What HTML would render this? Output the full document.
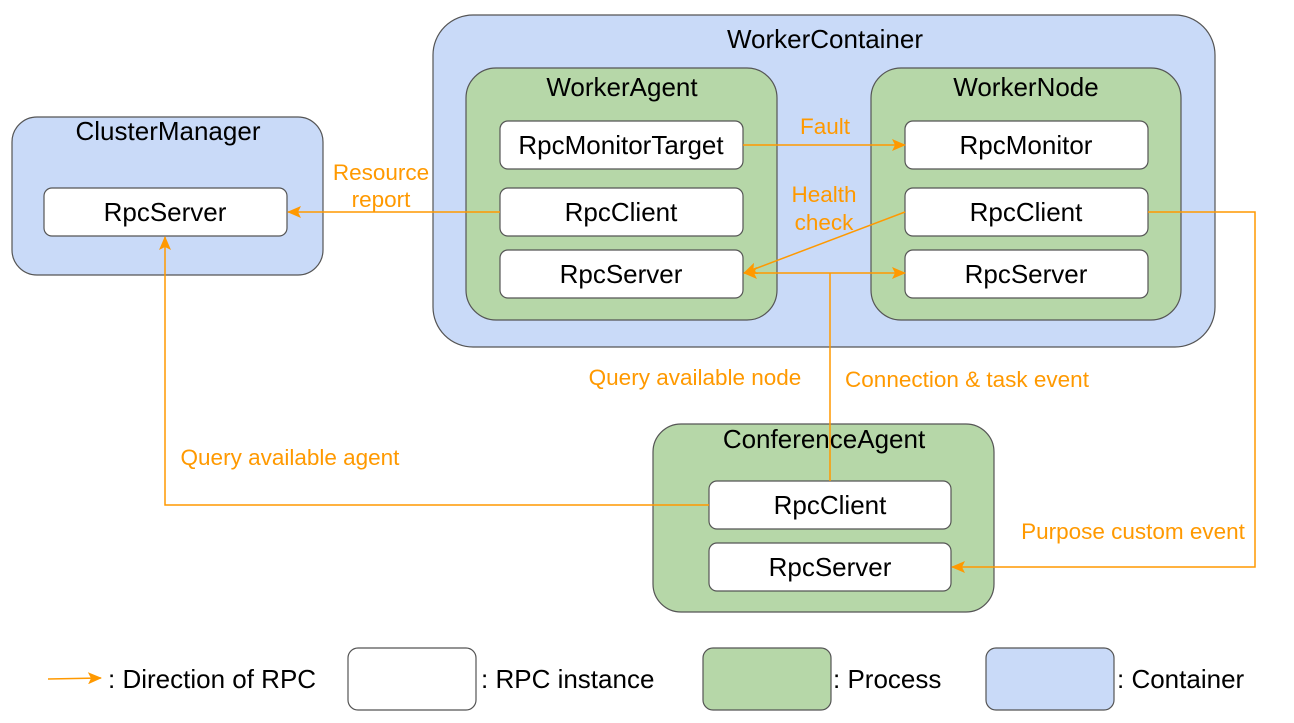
<!DOCTYPE html>
<html><head><meta charset="utf-8"><style>body{margin:0;background:#fff}svg{display:block}text{font-family:"Liberation Sans",Arial,sans-serif}</style></head><body>
<svg width="1294" height="723" viewBox="0 0 1294 723" xmlns="http://www.w3.org/2000/svg">
<defs><marker id="a" markerWidth="14" markerHeight="12" refX="13" refY="6" orient="auto" markerUnits="userSpaceOnUse"><path d="M0,0 L14,6 L0,12 L3,6 z" fill="#F90"/></marker>
<marker id="s" markerWidth="14" markerHeight="12" refX="1" refY="6" orient="auto" markerUnits="userSpaceOnUse"><path d="M14,0 L0,6 L14,12 L11,6 z" fill="#F90"/></marker></defs>
<g stroke="#555" stroke-width="1.2">
<rect x="433" y="15" width="782" height="332" rx="40" fill="#c9daf8"/>
<rect x="466" y="68" width="311" height="252" rx="30" fill="#b6d7a8"/>
<rect x="871" y="68" width="310" height="252" rx="30" fill="#b6d7a8"/>
<rect x="12" y="117" width="311" height="158" rx="25" fill="#c9daf8"/>
<rect x="653" y="424" width="341" height="188" rx="28" fill="#b6d7a8"/>
<g fill="#fff">
<rect x="500" y="121" width="243" height="48" rx="8"/><rect x="500" y="188" width="243" height="48" rx="8"/><rect x="500" y="250" width="243" height="48" rx="8"/>
<rect x="905" y="121" width="243" height="48" rx="8"/><rect x="905" y="188" width="243" height="48" rx="8"/><rect x="905" y="250" width="243" height="48" rx="8"/>
<rect x="44" y="188" width="243" height="48" rx="8"/>
<rect x="709" y="481" width="242" height="48" rx="8"/><rect x="709" y="543" width="242" height="48" rx="8"/>
<rect x="348" y="648" width="128" height="62" rx="10"/>
</g>
<rect x="703" y="648" width="128" height="62" rx="10" fill="#b6d7a8"/>
<rect x="986" y="648" width="128" height="62" rx="10" fill="#c9daf8"/>
</g>
<g fill="none" stroke="#F90" stroke-width="1.5">
<line x1="743" y1="145" x2="905" y2="145" marker-end="url(#a)"/>
<line x1="500" y1="212" x2="288" y2="212" marker-end="url(#a)"/>
<line x1="905" y1="212" x2="744" y2="273" marker-end="url(#a)"/>
<line x1="744" y1="273" x2="905" y2="273" marker-start="url(#s)" marker-end="url(#a)"/>
<line x1="830" y1="273" x2="830" y2="481"/>
<polyline points="709,505 165,505 165,237" marker-end="url(#a)"/>
<polyline points="1148,212 1255,212 1255,567 952,567" marker-end="url(#a)"/>
<line x1="48" y1="679" x2="101" y2="678" marker-end="url(#a)"/>
</g>
<g font-size="26" fill="#000" text-anchor="middle">
<text x="825" y="48">WorkerContainer</text>
<text x="622" y="96">WorkerAgent</text>
<text x="1026" y="96">WorkerNode</text>
<text x="168" y="140">ClusterManager</text>
<text x="824" y="448">ConferenceAgent</text>
<text x="621" y="154">RpcMonitorTarget</text>
<text x="621" y="221">RpcClient</text>
<text x="621" y="283">RpcServer</text>
<text x="1026" y="154">RpcMonitor</text>
<text x="1026" y="221">RpcClient</text>
<text x="1026" y="283">RpcServer</text>
<text x="165" y="221">RpcServer</text>
<text x="830" y="514">RpcClient</text>
<text x="830" y="576">RpcServer</text>
</g>
<g font-size="26" fill="#000">
<text x="108" y="688">: Direction of RPC</text>
<text x="481" y="688">: RPC instance</text>
<text x="833" y="688">: Process</text>
<text x="1117" y="688">: Container</text>
</g>
<g font-size="22.5" fill="#F90" text-anchor="middle">
<text x="825" y="134">Fault</text>
<text x="381" y="180">Resource</text><text x="381" y="207">report</text>
<text x="824" y="202">Health</text><text x="824" y="230">check</text>
<text x="695" y="385">Query available node</text>
<text x="967" y="387">Connection &amp; task event</text>
<text x="290" y="465">Query available agent</text>
<text x="1133" y="539">Purpose custom event</text>
</g>
</svg>
</body></html>
